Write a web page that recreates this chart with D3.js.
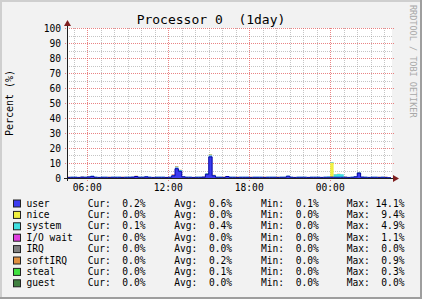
<!DOCTYPE html>
<html>
<head>
<meta charset="utf-8">
<script src="https://cdn.jsdelivr.net/npm/d3@7"></script>
<style>
    html, body { margin: 0; padding: 0; background: #f2f2f2; }
    svg { display: block; }
    text { font-family: "DejaVu Sans Mono", monospace; }
</style>
</head>
<body>
<div id="chart"></div>
<script>
// 15 minute samples, 04:30 -> 04:30 next day
const startTime = new Date(2024, 0, 1, 4, 30)
const stepMinutes = 15

const user = [
    0.4, 0.5, 0.5, 0.4, 0.6, 0.5, 0.7, 1.1, 0.5, 0.4,
    0.5, 0.5, 0.4, 0.5, 0.5, 0.5, 0.4, 0.5, 0.5, 0.6,
    1.0, 0.5, 0.5, 0.8, 0.5, 0.4, 0.5, 0.5, 0.5, 0.4,
    0.5, 1.5, 6.2, 4.5, 0.8, 0.5, 0.5, 0.4, 0.5, 0.5,
    0.6, 2.5, 14.1, 1.5, 0.5, 0.5, 0.4, 1.0, 0.5, 0.5,
    0.4, 0.5, 0.5, 0.5, 0.4, 0.5, 0.5, 0.5, 0.4, 0.5,
    0.5, 0.5, 0.4, 0.5, 0.5, 1.2, 0.5, 0.4, 0.5, 0.5,
    0.5, 0.4, 0.5, 0.5, 0.5, 0.4, 0.5, 0.5, 0.6, 0.5,
    0.5, 0.5, 0.5, 0.4, 0.5, 0.8, 3.3, 0.6, 0.5, 0.4,
    0.5, 0.5, 0.4, 0.5, 0.4, 0.2
]
const nice = [
    0, 0, 0, 0, 0, 0, 0, 0, 0, 0,
    0, 0, 0, 0, 0, 0, 0, 0, 0, 0,
    0, 0, 0, 0, 0, 0, 0, 0, 0, 0,
    0, 0, 0, 0, 0, 0, 0, 0, 0, 0,
    0, 0, 0, 0, 0, 0, 0, 0, 0, 0,
    0, 0, 0, 0, 0, 0, 0, 0, 0, 0,
    0, 0, 0, 0, 0, 0, 0, 0, 0, 0,
    0, 0, 0, 0, 0, 0, 0, 0.2, 9.4, 0,
    0, 0, 0, 0, 0, 0, 0, 0, 0, 0,
    0, 0, 0, 0, 0, 0
]
const system = [
    0.3, 0.3, 0.3, 0.3, 0.3, 0.3, 0.3, 0.4, 0.3, 0.3,
    0.3, 0.3, 0.3, 0.3, 0.3, 0.3, 0.3, 0.3, 0.3, 0.3,
    0.4, 0.3, 0.3, 0.3, 0.3, 0.3, 0.3, 0.3, 0.3, 0.3,
    0.3, 0.5, 1.0, 0.8, 0.3, 0.3, 0.3, 0.3, 0.3, 0.3,
    0.3, 0.6, 1.0, 0.5, 0.3, 0.3, 0.3, 0.3, 0.3, 0.3,
    0.3, 0.3, 0.3, 0.3, 0.3, 0.3, 0.3, 0.3, 0.3, 0.3,
    0.3, 0.3, 0.3, 0.3, 0.3, 0.3, 0.3, 0.3, 0.3, 0.3,
    0.3, 0.3, 0.3, 0.3, 0.3, 0.3, 0.3, 0.3, 0.5, 2.0,
    2.2, 2.0, 0.4, 0.3, 0.3, 0.3, 0.5, 0.3, 0.3, 0.3,
    0.3, 0.3, 0.3, 0.3, 0.3, 0.1
]
const iowait = [
    0, 0, 0, 0, 0, 0, 0, 0, 0, 0,
    0, 0, 0, 0, 0, 0, 0, 0, 0, 0,
    0, 0, 0, 0, 0, 0, 0, 0, 0, 0,
    0, 0.4, 0.3, 0, 0, 0, 0, 0, 0, 0,
    0, 0, 0.2, 0, 0, 0, 0, 0, 0, 0,
    0, 0, 0, 0, 0, 0, 0, 0, 0, 0,
    0, 0, 0, 0, 0, 0, 0, 0, 0, 0,
    0, 0, 0, 0, 0, 0, 0, 0, 0, 0,
    0, 0, 0, 0, 0, 0, 0, 0, 0, 0,
    0, 0, 0, 0, 0, 0
]
const irq = new Array(96).fill(0)
const softirq = [
    0.1, 0, 0.1, 0, 0.1, 0, 0.1, 0, 0.1, 0,
    0.1, 0, 0.1, 0, 0.1, 0, 0.1, 0, 0.1, 0,
    0.1, 0, 0.1, 0, 0.1, 0, 0.1, 0, 0.1, 0,
    0.1, 0.2, 0.3, 0.2, 0.1, 0, 0.1, 0, 0.1, 0,
    0.1, 0.2, 0.3, 0.1, 0.1, 0, 0.1, 0, 0.1, 0,
    0.1, 0, 0.1, 0, 0.1, 0, 0.1, 0, 0.1, 0,
    0.1, 0, 0.1, 0, 0.1, 0, 0.1, 0, 0.1, 0,
    0.1, 0, 0.1, 0, 0.1, 0, 0.1, 0, 0.2, 0.1,
    0.1, 0, 0.1, 0, 0.1, 0, 0.2, 0, 0.1, 0,
    0.1, 0, 0.1, 0, 0.1, 0
]
const steal = [
    0, 0, 0, 0, 0, 0, 0, 0, 0, 0,
    0, 0, 0, 0, 0, 0, 0, 0, 0, 0,
    0, 0, 0, 0, 0, 0, 0, 0, 0, 0,
    0, 0, 0.2, 0, 0, 0, 0, 0, 0, 0,
    0, 0, 0.3, 0, 0, 0, 0, 0, 0, 0,
    0, 0, 0, 0, 0, 0, 0, 0, 0, 0,
    0, 0, 0, 0, 0, 0, 0, 0, 0, 0,
    0, 0, 0, 0, 0, 0, 0, 0, 0, 0,
    0, 0, 0, 0, 0, 0, 0, 0, 0, 0,
    0, 0, 0, 0, 0, 0
]
const guest = new Array(96).fill(0)

// legend
const names = ['user', 'nice', 'system', 'I/O wait', 'IRQ', 'softIRQ', 'steal', 'guest']
const keys = ['user', 'nice', 'system', 'iowait', 'irq', 'softirq', 'steal', 'guest']
const colors = ['#3c3cf0', '#f0f040', '#40e0e0', '#e040e0', '#808080', '#e09040', '#40e040', '#408040']
const curVals = ['0.2%', '0.0%', '0.1%', '0.0%', '0.0%', '0.0%', '0.0%', '0.0%']
const avgVals = ['0.6%', '0.0%', '0.4%', '0.0%', '0.0%', '0.2%', '0.1%', '0.0%']
const minVals = ['0.1%', '0.0%', '0.0%', '0.0%', '0.0%', '0.0%', '0.0%', '0.0%']
const maxVals = ['14.1%', '9.4%', '4.9%', '1.1%', '0.0%', '0.9%', '0.3%', '0.0%']
const yTicks = [0, 10, 20, 30, 40, 50, 60, 70, 80, 90, 100]

const series = { user, nice, system, iowait, irq, softirq, steal, guest }

const width = 422
const height = 299
const plotLeft = 67
const plotRight = 391
const plotTop = 28
const plotBottom = 178
const fontSize = '9.6px'

const svg = d3.select('#chart').append('svg')
    .attr('width', width)
    .attr('height', height)

// frame
svg.append('rect').attr('width', width).attr('height', height).attr('fill', '#f2f2f2')
svg.append('path').attr('d', `M0,0H${width}V2H2V${height}H0Z`).attr('fill', '#cfcfcf')
svg.append('path').attr('d', `M${width},0V${height}H0V${height - 2}H${width - 2}V0Z`).attr('fill', '#9e9e9e')

const endTime = d3.timeMinute.offset(startTime, stepMinutes * user.length)
const xScale = d3.scaleTime().domain([startTime, endTime]).range([plotLeft, plotRight])
const yScale = d3.scaleLinear().domain([0, 100]).range([plotBottom, plotTop])

// canvas
svg.append('rect')
    .attr('x', plotLeft).attr('y', plotTop)
    .attr('width', plotRight - plotLeft + 1).attr('height', plotBottom - plotTop)
    .attr('fill', '#fff')

// rows for stacking, last row repeated so the step reaches the end
const rows = user.map((v, i) => {
    const r = { t: d3.timeMinute.offset(startTime, stepMinutes * i) }
    keys.forEach(k => r[k] = series[k][i])
    return r
})
rows.push(Object.assign({}, rows[rows.length - 1], { t: endTime }))

// grid
const minorColor = 'rgba(150,150,150,0.55)'
const majorColor = 'rgba(225,80,80,0.7)'
const grid = svg.append('g').attr('shape-rendering', 'crispEdges')
grid.append('g').selectAll('line')
    .data(d3.range(5, 100, 10))
    .join('line')
    .attr('x1', plotLeft).attr('x2', plotRight + 1)
    .attr('y1', d => Math.round(yScale(d)) + 0.5)
    .attr('y2', d => Math.round(yScale(d)) + 0.5)
    .attr('stroke', minorColor)
    .attr('stroke-dasharray', '1,1')
grid.append('g').selectAll('line')
    .data(xScale.ticks(d3.timeHour.every(1)).filter(d => d.getHours() % 6 !== 0))
    .join('line')
    .attr('x1', d => Math.round(xScale(d)) + 0.5)
    .attr('x2', d => Math.round(xScale(d)) + 0.5)
    .attr('y1', plotTop).attr('y2', plotBottom)
    .attr('stroke', minorColor)
    .attr('stroke-dasharray', '1,1')
grid.append('g').selectAll('line')
    .data(yTicks.slice(1))
    .join('line')
    .attr('x1', plotLeft - 2).attr('x2', plotRight + 3)
    .attr('y1', d => Math.round(yScale(d)) + 0.5)
    .attr('y2', d => Math.round(yScale(d)) + 0.5)
    .attr('stroke', majorColor)
    .attr('stroke-dasharray', '1,1')
grid.append('g').selectAll('line')
    .data(xScale.ticks(d3.timeHour.every(6)))
    .join('line')
    .attr('x1', d => Math.round(xScale(d)) + 0.5)
    .attr('x2', d => Math.round(xScale(d)) + 0.5)
    .attr('y1', plotTop).attr('y2', plotBottom + 3)
    .attr('stroke', majorColor)
    .attr('stroke-dasharray', '1,1')

// stacked areas
const stacked = d3.stack().keys(keys)(rows)
const area = d3.area()
    .x(d => xScale(d.data.t))
    .y0(d => yScale(d[0]))
    .y1(d => yScale(d[1]))
    .curve(d3.curveStepAfter)

svg.append('g')
    .selectAll('path')
    .data(stacked)
    .join('path')
    .attr('d', area)
    .attr('fill', (d, i) => colors[i])

const userLine = d3.line()
    .x(d => xScale(d.data.t))
    .y(d => yScale(d[1]))
    .curve(d3.curveStepAfter)
svg.append('path')
    .datum(stacked[0])
    .attr('d', userLine)
    .attr('fill', 'none')
    .attr('stroke', '#0000a0')
    .attr('stroke-width', 1)

// axes
svg.append('line')
    .attr('x1', plotLeft - 3).attr('x2', plotRight + 3)
    .attr('y1', plotBottom + 0.5).attr('y2', plotBottom + 0.5)
    .attr('stroke', '#1f1f1f')
svg.append('line')
    .attr('x1', plotLeft + 0.5).attr('x2', plotLeft + 0.5)
    .attr('y1', plotBottom + 3).attr('y2', plotTop - 3)
    .attr('stroke', '#1f1f1f')
svg.append('path')
    .attr('d', `M${plotRight + 2},${plotBottom - 3}L${plotRight + 8},${plotBottom + 0.5}L${plotRight + 2},${plotBottom + 4}Z`)
    .attr('fill', '#7f1f1f')
svg.append('path')
    .attr('d', `M${plotLeft - 3},${plotTop - 2}L${plotLeft + 0.5},${plotTop - 8}L${plotLeft + 4},${plotTop - 2}Z`)
    .attr('fill', '#7f1f1f')

// tick labels
svg.append('g')
    .selectAll('text')
    .data(yTicks)
    .join('text')
    .attr('x', 61)
    .attr('y', d => yScale(d) + 0.5)
    .attr('text-anchor', 'end')
    .attr('dominant-baseline', 'middle')
    .attr('font-size', fontSize)
    .text(d => d)

svg.append('g')
    .selectAll('text')
    .data(xScale.ticks(d3.timeHour.every(6)))
    .join('text')
    .attr('x', d => xScale(d))
    .attr('y', 188)
    .attr('text-anchor', 'middle')
    .attr('dominant-baseline', 'middle')
    .attr('font-size', fontSize)
    .text(d => d3.timeFormat('%H:%M')(d))

// title and labels
svg.append('text')
    .attr('x', 211).attr('y', 20)
    .attr('text-anchor', 'middle')
    .attr('dominant-baseline', 'middle')
    .attr('font-size', '13px')
    .attr('xml:space', 'preserve')
    .text('Processor 0  (1day)')

svg.append('text')
    .attr('transform', 'translate(10,103) rotate(-90)')
    .attr('text-anchor', 'middle')
    .attr('dominant-baseline', 'middle')
    .attr('font-size', '10px')
    .text('Percent (%)')

svg.append('text')
    .attr('transform', 'translate(412,5) rotate(90)')
    .attr('text-anchor', 'start')
    .attr('dominant-baseline', 'middle')
    .attr('font-size', '8.5px')
    .attr('fill', '#a8a8a8')
    .text('RRDTOOL / TOBI OETIKER')

// legend
const legend = svg.append('g')
    .selectAll('g')
    .data(names)
    .join('g')
    .attr('transform', (d, i) => `translate(0, ${203.5 + i * 11.4})`)

legend.append('rect')
    .attr('x', 13.5).attr('y', -3.5)
    .attr('width', 7).attr('height', 7)
    .attr('fill', (d, i) => colors[i])
    .attr('stroke', '#202020')

const pad = s => s.padStart(6, ' ')
const legendText = (x, fn) => legend.append('text')
    .attr('x', x).attr('y', 0)
    .attr('dominant-baseline', 'middle')
    .attr('font-size', fontSize)
    .attr('xml:space', 'preserve')
    .text(fn)

legendText(26.5, d => d)
legendText(87.7, (d, i) => 'Cur:' + pad(curVals[i]))
legendText(174.3, (d, i) => 'Avg:' + pad(avgVals[i]))
legendText(261, (d, i) => 'Min:' + pad(minVals[i]))
legendText(346.7, (d, i) => 'Max:' + pad(maxVals[i]))
</script>
</body>
</html>
